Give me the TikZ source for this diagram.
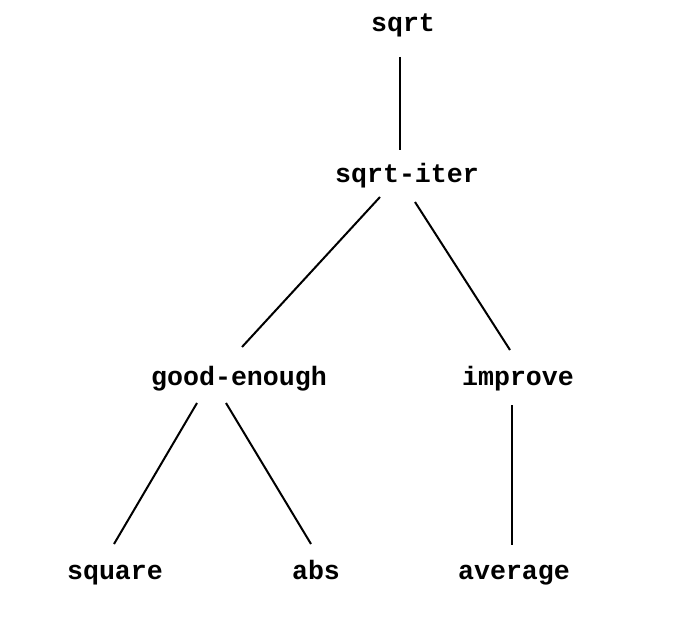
\documentclass[tikz,border=0pt]{standalone}
\usepackage{fontspec}
\usepackage{tikz}
\usetikzlibrary{calc}
\newfontfamily\codefont{Liberation Mono}
\tikzstyle{every node}=[font=\codefont\bfseries\fontsize{13.3}{15}\selectfont,inner sep=0pt,anchor=base]
\tikzstyle{call}=[draw=black,line width=1pt]

\begin{document}
\begin{tikzpicture}[x=0.5pt,y=-0.5pt]
    \useasboundingbox (0,0) rectangle (680,620);
    \node (sqrt)    at (403,32)  {sqrt};
    \node (iter)    at (407,183) {sqrt-iter};
    \node (good)    at (239,385) {good-enough};
    \node (improve) at (518,385) {improve};
    \node (square)  at (115,579) {square};
    \node (abs)     at (316,579) {abs};
    \node (average) at (514,579) {average};
    % calls
    \draw[call] ($(sqrt.base)+(-3,25)$) -- ($(iter.base)+(-7,-33)$);
    \draw[call] ($(iter.base)+(-27,14)$) -- ($(good.base)+(3,-38)$);
    \draw[call] ($(iter.base)+(8,19)$) -- ($(improve.base)+(-8,-35)$);
    \draw[call] ($(good.base)+(-42,18)$) -- ($(square.base)+(-1,-35)$);
    \draw[call] ($(good.base)+(-13,18)$) -- ($(abs.base)+(-5,-35)$);
    \draw[call] ($(improve.base)+(-6,20)$) -- ($(average.base)+(-2,-34)$);
\end{tikzpicture}
\end{document}
